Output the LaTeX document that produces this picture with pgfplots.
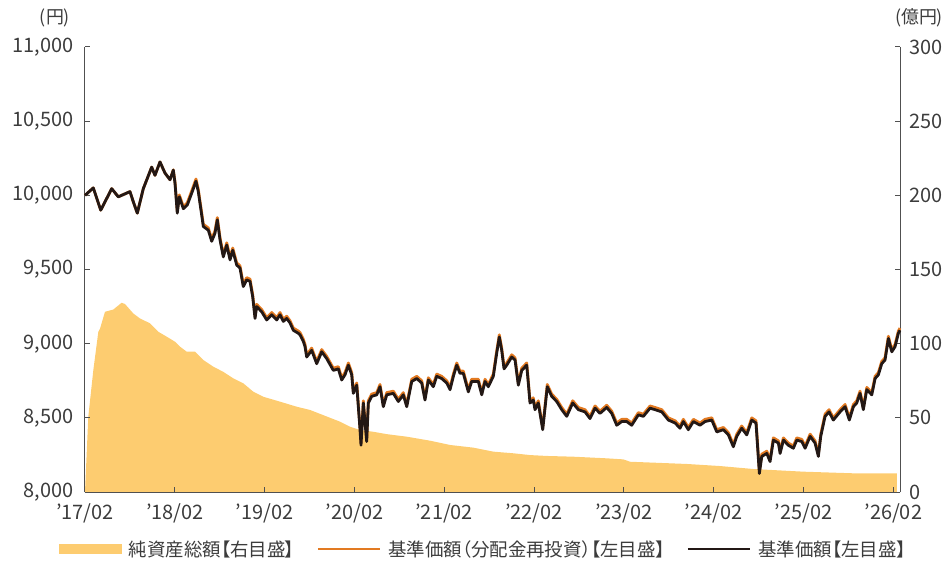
\documentclass[border=0pt]{standalone}
\usepackage{fontspec}
\setmainfont{Noto Sans CJK JP}
\newfontfamily\legfont[RawFeature=+palt]{Noto Sans CJK JP}
\usepackage{pgfplots}
\pgfplotsset{compat=1.18}
\usepackage{pgfplotstable}

\definecolor{areacol}{RGB}{253,204,112}
\definecolor{orangeline}{RGB}{226,122,34}
\definecolor{navblack}{RGB}{35,24,21}
\definecolor{txt}{RGB}{60,60,60}
\definecolor{axcol}{RGB}{80,80,80}

\pgfplotstableread{
m v
0 0
0.44 50.7
1.11 82
1.78 108
2.00 110
2.67 121.5
3.78 123
4.90 127.6
5.35 126.7
6.45 120.4
7.35 117
8.69 113.7
9.80 108
10.92 104.7
12.03 101.3
12.69 98
13.59 94.6
14.70 94.6
15.81 89
17.14 84.5
18.48 81
19.82 76.6
21.15 73.3
22.49 67.6
23.83 64.2
26.06 60.9
28.29 57.5
30.07 55.3
34.08 47.4
35.41 44
36.75 41.8
38.53 40.6
40.32 39
42.99 37.3
46.10 34.6
48.78 31.7
51.89 29.9
54.56 27.2
57.24 26.1
59.46 24.9
61.70 24.3
65.25 23.8
69.71 22.7
71.93 22
72.83 20.4
80.40 18.9
84.85 17.5
89.30 15.5
95.99 13.7
102.67 12.6
108.47 12.6
}\areatable

\pgfplotstableread{
m nav re
0 10000 10000
1.11 10050 10050
2.10 9900 9900
3.57 10045 10045
4.45 9990 9990
6.01 10025 10025
6.45 9957 9957
6.99 9880 9880
7.79 10045 10045
8.91 10190 10190
9.35 10135 10135
10.02 10225 10225
10.69 10150 10150
11.36 10105 10105
11.80 10170 10172
12.03 10080 10090
12.33 9880 9892
12.60 9990 10003
13.14 9910 9924
13.67 9935 9950
14.26 10015 10030
14.83 10095 10110
15.14 10025 10040
15.81 9790 9805
16.48 9765 9780
16.93 9690 9705
17.37 9745 9760
17.68 9835 9850
18.04 9700 9715
18.48 9585 9600
18.94 9665 9680
19.38 9565 9580
19.74 9630 9645
20.27 9530 9545
20.71 9510 9525
21.15 9385 9400
21.61 9430 9445
22.05 9420 9435
22.41 9315 9330
22.72 9170 9185
22.94 9250 9265
23.61 9215 9230
24.28 9160 9175
24.95 9195 9210
25.62 9160 9175
26.06 9195 9210
26.50 9150 9165
26.95 9170 9185
27.39 9140 9155
27.84 9090 9105
28.50 9070 9085
28.73 9060 9075
29.17 9015 9030
29.40 8980 8995
29.62 8910 8925
30.29 8955 8970
30.96 8865 8880
31.63 8945 8960
32.29 8900 8915
33.18 8820 8835
33.85 8830 8845
34.30 8755 8770
34.74 8790 8805
35.19 8855 8870
35.64 8790 8805
35.85 8665 8680
36.31 8720 8735
36.75 8420 8435
36.88 8315 8330
37.19 8600 8615
37.64 8340 8355
37.86 8600 8615
38.31 8645 8660
38.98 8655 8670
39.42 8710 8725
39.86 8575 8590
40.32 8655 8670
41.20 8665 8680
41.87 8610 8625
42.53 8655 8670
42.99 8575 8590
43.66 8745 8760
44.33 8765 8780
44.99 8735 8750
45.43 8620 8635
45.88 8755 8770
46.54 8710 8725
47.00 8780 8795
47.66 8765 8780
48.33 8735 8750
48.78 8690 8705
49.22 8780 8795
49.67 8855 8870
50.11 8800 8815
50.55 8800 8815
51.22 8675 8690
51.67 8745 8760
52.56 8745 8760
53.01 8655 8670
53.45 8745 8760
53.89 8710 8725
54.56 8780 8795
55.01 8935 8950
55.36 9045 9060
55.68 8955 8970
55.99 8830 8845
56.35 8855 8870
57.02 8910 8925
57.46 8890 8905
57.90 8720 8735
58.36 8820 8835
59.02 8855 8870
59.24 8730 8745
59.46 8600 8615
59.90 8620 8635
60.13 8555 8570
60.57 8600 8615
61.16 8420 8435
61.77 8710 8725
62.36 8645 8660
63.03 8610 8625
63.70 8555 8570
64.37 8510 8525
65.17 8600 8615
65.92 8555 8570
66.81 8540 8555
67.48 8495 8510
68.15 8565 8580
68.82 8530 8545
69.71 8570 8585
70.38 8530 8545
71.05 8450 8465
71.72 8475 8490
72.38 8475 8490
73.05 8450 8465
73.94 8520 8535
74.61 8510 8525
75.50 8565 8580
76.17 8555 8570
77.07 8540 8555
77.95 8485 8500
78.85 8465 8480
79.51 8430 8445
79.95 8475 8490
80.62 8420 8435
81.29 8475 8490
82.18 8450 8465
82.85 8475 8490
83.75 8485 8500
84.42 8405 8420
85.30 8420 8435
85.97 8385 8400
86.63 8305 8320
87.09 8375 8390
87.75 8430 8445
88.42 8385 8400
89.09 8485 8500
89.66 8465 8480
90.11 8125 8140
90.43 8240 8255
91.10 8260 8275
91.54 8205 8220
91.98 8350 8365
92.65 8330 8345
92.88 8260 8275
93.32 8350 8365
93.99 8315 8330
94.65 8295 8310
95.11 8350 8365
95.77 8340 8355
96.22 8295 8310
96.89 8375 8390
97.55 8330 8345
97.99 8240 8255
98.31 8375 8390
98.89 8510 8525
99.42 8540 8555
99.99 8485 8500
100.89 8540 8555
101.56 8575 8590
102.13 8485 8500
102.67 8575 8590
103.12 8600 8615
103.56 8665 8680
104.00 8555 8570
104.46 8690 8705
105.13 8655 8670
105.57 8765 8780
106.01 8790 8805
106.46 8865 8880
106.90 8890 8905
107.35 9035 9050
107.80 8945 8960
108.24 8980 8995
108.68 9070 9085
108.90 9090 9105
}\navtable

\begin{document}
\begin{tikzpicture}
% right axis: net assets (area)
\begin{axis}[
  at={(0,0)}, anchor=south west,
  scale only axis, width=815bp, height=445bp,
  xmin=0, xmax=108.9, ymin=0, ymax=300,
  axis x line=none, axis y line*=right,
  ytick={0,50,...,300},
  tick align=inside, major tick length=5bp,
  y axis line style={color=axcol, line width=1bp},
  ytick style={color=axcol, line width=1bp},
  yticklabel shift=6bp,
  yticklabel style={font=\fontsize{20}{24}\selectfont, text=txt},
  /pgf/number format/assume math mode=true,
]
\addplot[fill=areacol, draw=none] table[x=m, y=v] {\areatable} \closedcycle;
\end{axis}
% left axis: NAV lines
\begin{axis}[
  at={(0,0)}, anchor=south west,
  scale only axis, width=815bp, height=445bp,
  xmin=0, xmax=108.9, ymin=8000, ymax=11000,
  axis x line*=bottom, axis y line*=left,
  xtick={0,12,...,108},
  xticklabels={’17/02,’18/02,’19/02,’20/02,’21/02,’22/02,’23/02,’24/02,’25/02,’26/02},
  ytick={8000,8500,...,11000},
  scaled y ticks=false,
  /pgf/number format/1000 sep={,},
  /pgf/number format/assume math mode=true,
  tick align=inside, major tick length=5bp,
  axis line style={color=axcol, line width=1bp},
  tick style={color=axcol, line width=1bp},
  yticklabel style={font=\fontsize{20}{24}\selectfont, text=txt, xshift=-8bp},
  xticklabel style={font=\fontsize{20}{24}\selectfont, text=txt, yshift=-8bp},
  legend columns=3,
  legend style={at={(0.489,-0.128)}, anchor=center, draw=none, fill=none,
    font=\legfont\fontsize{18.5}{22}\selectfont, text=txt,
    /tikz/every odd column/.append style={column sep=5bp},
    /tikz/every even column/.append style={column sep=20bp}},
  clip=false,
]
\addlegendimage{legend image code/.code={\fill[areacol] (0bp,-4.5bp) rectangle (62bp,4.5bp);}}
\addlegendentry{純資産総額【右目盛】}
\addlegendimage{legend image code/.code={\draw[orangeline, line width=2.6bp] (0bp,0bp) -- (62bp,0bp);}}
\addlegendentry{基準価額（分配金再投資）【左目盛】}
\addlegendimage{legend image code/.code={\draw[navblack, line width=2.6bp] (0bp,0bp) -- (62bp,0bp);}}
\addlegendentry{基準価額【左目盛】}
\addplot[forget plot, orangeline, line width=2.8bp, line join=round] table[x=m, y=re] {\navtable};
\addplot[forget plot, navblack, line width=2.8bp, line join=round] table[x=m, y=nav] {\navtable};
\end{axis}
\node[font=\fontsize{18}{20}\selectfont, text=txt] at (-30bp, 474bp) {(円)};
\node[font=\fontsize{18}{20}\selectfont, text=txt] at (834bp, 474bp) {(億円)};
\pgfresetboundingbox
\path (-85bp,-69bp) rectangle (862bp,492bp);
\end{tikzpicture}
\end{document}
